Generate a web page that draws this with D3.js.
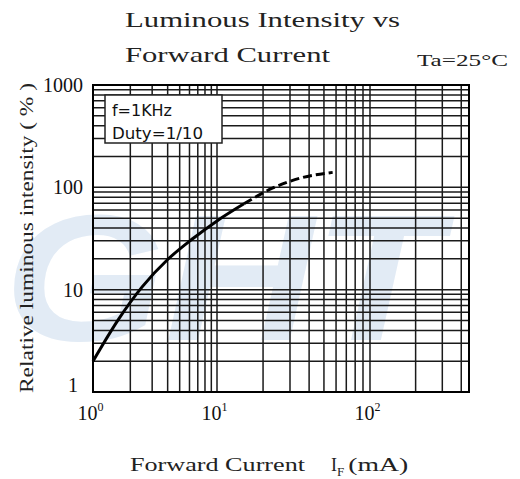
<!DOCTYPE html>
<html>
<head>
<meta charset="utf-8">
<script src="https://cdn.jsdelivr.net/npm/d3@7"></script>
<style>
  body { margin: 0; background: #fff; }
  svg { display: block; }
</style>
</head>
<body>
<svg id="canvas"></svg>
<script>
"use strict";

// curve
const currentMA = [1, 1.6, 2.5, 4, 6.4, 10, 15, 23, 35, 57];
const intensityPct = [2, 5.1, 10.7, 19.7, 31.6, 47, 69, 98, 123, 140];
const dashFromMA = 15;

const xTicks = [1, 10, 100];
const xTickPowers = ["0", "1", "2"];
const yTicks = [1, 10, 100, 1000];
const legendLines = ["f=1KHz", "Duty=1/10"];

let width = 520;
let height = 479;

let canvas = d3.select('#canvas')
    .attr('width', width)
    .attr('height', height);

// the printed grid has uneven decades, so the log scale is piecewise
let xScale = d3.scaleLog()
    .domain([1, 10, 100, 450])
    .range([93, 217, 370, 469]);

let yScale = d3.scaleLog()
    .domain([1, 1000])
    .range([392, 85]);

const plotLeft = xScale(1), plotRight = xScale(450);
const plotTop = yScale(1000), plotBottom = yScale(1);

// faint watermark behind the grid
canvas.append('text')
    .attr('x', 4)
    .attr('y', 340)
    .attr('font-family', 'Liberation Sans')
    .attr('font-weight', 'bold')
    .attr('font-style', 'italic')
    .attr('font-size', 180)
    .attr('fill', '#e2ebf5')
    .attr('textLength', 436)
    .attr('lengthAdjust', 'spacingAndGlyphs')
    .text('GHT');

// grid values: 1..9 per decade
let xGrid = [];
[1, 10, 100].forEach(d => {
    for (let k = 1; k < 10; k++) {
        if (d * k <= 450) xGrid.push(d * k);
    }
});
let yGrid = [];
[1, 10, 100].forEach(d => {
    for (let k = 1; k < 10; k++) yGrid.push(d * k);
});
yGrid.push(1000);

const grid = canvas.append('g')
    .attr('stroke', '#1a1a1a')
    .attr('stroke-width', 1.5);

grid.selectAll('line.v')
    .data(xGrid)
    .enter()
    .append('line')
    .attr('class', 'v')
    .attr('x1', d => xScale(d))
    .attr('x2', d => xScale(d))
    .attr('y1', plotTop)
    .attr('y2', plotBottom);

grid.selectAll('line.h')
    .data(yGrid)
    .enter()
    .append('line')
    .attr('class', 'h')
    .attr('x1', plotLeft)
    .attr('x2', plotRight)
    .attr('y1', d => yScale(d))
    .attr('y2', d => yScale(d));

canvas.append('rect')
    .attr('x', plotLeft)
    .attr('y', plotTop)
    .attr('width', plotRight - plotLeft)
    .attr('height', plotBottom - plotTop)
    .attr('fill', 'none')
    .attr('stroke', '#000')
    .attr('stroke-width', 2);

// legend box in upper left
const legend = canvas.append('g');
legend.append('rect')
    .attr('x', 105)
    .attr('y', 95)
    .attr('width', 117)
    .attr('height', 48)
    .attr('fill', '#fff')
    .attr('stroke', '#222')
    .attr('stroke-width', 1.5);
legend.selectAll('text')
    .data(legendLines)
    .enter()
    .append('text')
    .attr('x', 112)
    .attr('y', (d, i) => 116 + i * 23)
    .attr('font-family', 'DejaVu Sans Condensed')
    .attr('font-size', 16)
    .attr('fill', '#111')
    .attr('textLength', (d, i) => i === 0 ? 60 : 91)
    .attr('lengthAdjust', 'spacingAndGlyphs')
    .text(d => d);

// the curve: solid part, then dashed tail
const points = currentMA.map((c, i) => ({ c: c, v: intensityPct[i] }));
const line = d3.line()
    .x(d => xScale(d.c))
    .y(d => yScale(d.v))
    .curve(d3.curveMonotoneX);

canvas.append('path')
    .datum(points.filter(d => d.c <= dashFromMA))
    .attr('d', line)
    .attr('fill', 'none')
    .attr('stroke', '#000')
    .attr('stroke-width', 3);

canvas.append('path')
    .datum(points.filter(d => d.c >= dashFromMA))
    .attr('d', line)
    .attr('fill', 'none')
    .attr('stroke', '#000')
    .attr('stroke-width', 3)
    .attr('stroke-dasharray', '9,4');

// axes (labels only, the grid is drawn above)
const yAxis = d3.axisLeft(yScale)
    .tickValues(yTicks)
    .tickFormat(d3.format('d'))
    .tickSize(0)
    .tickPadding(10);

const yG = canvas.append('g')
    .attr('transform', 'translate(' + plotLeft + ',0)')
    .call(yAxis);
yG.select('.domain').remove();
yG.selectAll('text')
    .attr('font-family', 'Liberation Serif')
    .attr('font-size', 20)
    .attr('fill', '#111');
yG.selectAll('.tick')
    .filter(d => d === 1)
    .select('text')
    .attr('dy', '-0.05em')
    .attr('x', -15);

const xAxis = d3.axisBottom(xScale)
    .tickValues(xTicks)
    .tickFormat('')
    .tickSize(0);

const xG = canvas.append('g')
    .attr('transform', 'translate(0,' + plotBottom + ')')
    .call(xAxis);
xG.select('.domain').remove();
xG.selectAll('.tick').each(function (d, i) {
    const t = d3.select(this).select('text')
        .attr('y', 28)
        .attr('dy', 0)
        .attr('x', -3)
        .attr('font-family', 'Liberation Serif')
        .attr('font-size', 20)
        .attr('fill', '#111');
    t.text('10');
    t.append('tspan')
        .attr('dy', -9)
        .attr('font-size', 12)
        .text(xTickPowers[i]);
});

// titles
const title = canvas.append('g')
    .attr('font-family', 'Liberation Serif')
    .attr('fill', '#222');

title.append('text')
    .attr('x', 125)
    .attr('y', 27)
    .attr('font-size', 22)
    .attr('textLength', 275)
    .attr('lengthAdjust', 'spacingAndGlyphs')
    .text('Luminous Intensity vs');

title.append('text')
    .attr('x', 125)
    .attr('y', 62)
    .attr('font-size', 22)
    .attr('textLength', 205)
    .attr('lengthAdjust', 'spacingAndGlyphs')
    .text('Forward Current');

title.append('text')
    .attr('x', 417)
    .attr('y', 66)
    .attr('font-size', 17)
    .attr('textLength', 91)
    .attr('lengthAdjust', 'spacingAndGlyphs')
    .text('Ta=25°C');

// axis titles
canvas.append('text')
    .attr('transform', 'translate(33,238) rotate(-90)')
    .attr('text-anchor', 'middle')
    .attr('font-family', 'Liberation Serif')
    .attr('font-size', 19)
    .attr('fill', '#222')
    .attr('textLength', 310)
    .attr('lengthAdjust', 'spacingAndGlyphs')
    .text('Relative luminous intensity ( % )');

const xTitle = canvas.append('text')
    .attr('x', 130)
    .attr('y', 471)
    .attr('font-family', 'Liberation Serif')
    .attr('font-size', 18)
    .attr('fill', '#222');
xTitle.append('tspan')
    .attr('textLength', 175)
    .attr('lengthAdjust', 'spacingAndGlyphs')
    .text('Forward Current');
xTitle.append('tspan')
    .attr('x', 331)
    .text('I');
xTitle.append('tspan')
    .attr('dy', 5)
    .attr('font-size', 13)
    .text('F');
xTitle.append('tspan')
    .attr('dy', -5)
    .attr('dx', 4)
    .attr('textLength', 60)
    .attr('lengthAdjust', 'spacingAndGlyphs')
    .text('(mA)');
</script>
</body>
</html>
